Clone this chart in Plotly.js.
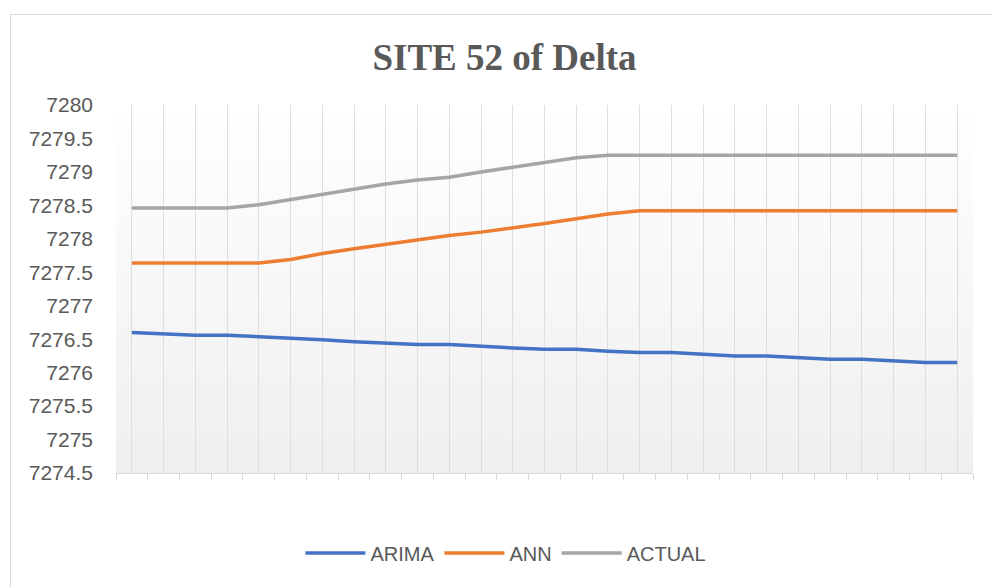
<!DOCTYPE html>
<html>
<head>
<meta charset="utf-8">
<script src="https://cdn.plot.ly/plotly-3.0.1.min.js"></script>
<style>
  html, body { margin: 0; padding: 0; background: #ffffff; overflow: hidden; }
  #frame { position: absolute; left: 10px; top: 14px; width: 1000px; height: 620px;
           border-left: 1px solid #d9d9d9; border-top: 1px solid #d9d9d9; }
  #chart { position: absolute; left: 0; top: 0; width: 992px; height: 587px; }
</style>
</head>
<body>
<div id="frame"></div>
<div id="chart"></div>
<script>
const periods = [1, 2, 3, 4, 5, 6, 7, 8, 9, 10, 11, 12, 13, 14, 15, 16, 17, 18, 19, 20, 21, 22, 23, 24, 25, 26, 27];

const arima = [7276.60, 7276.58, 7276.56, 7276.56, 7276.54, 7276.51, 7276.49, 7276.46, 7276.44,
               7276.42, 7276.42, 7276.39, 7276.37, 7276.35, 7276.35, 7276.32, 7276.30, 7276.30,
               7276.27, 7276.25, 7276.25, 7276.22, 7276.20, 7276.20, 7276.18, 7276.15, 7276.15];

const ann = [7277.64, 7277.64, 7277.64, 7277.64, 7277.64, 7277.69, 7277.78, 7277.85, 7277.92,
             7277.99, 7278.05, 7278.10, 7278.16, 7278.23, 7278.30, 7278.37, 7278.42, 7278.42,
             7278.42, 7278.42, 7278.42, 7278.42, 7278.42, 7278.42, 7278.42, 7278.42, 7278.42];

const actual = [7278.46, 7278.46, 7278.46, 7278.46, 7278.51, 7278.59, 7278.67, 7278.74, 7278.82,
                7278.88, 7278.92, 7279.00, 7279.07, 7279.15, 7279.21, 7279.25, 7279.25, 7279.25,
                7279.25, 7279.25, 7279.25, 7279.25, 7279.25, 7279.25, 7279.25, 7279.25, 7279.25];

const seriesNames = ['ARIMA', 'ANN', 'ACTUAL'];
const seriesColors = ['#4472C4', '#ED7D31', '#A5A5A5'];
const chartTitle = 'SITE 52 of Delta';

const seriesData = [arima, ann, actual];
const traces = seriesData.map((ys, i) => ({
  type: 'scatter',
  mode: 'lines',
  x: periods,
  y: ys,
  name: seriesNames[i],
  line: { color: seriesColors[i], width: 3.5 },
  hoverinfo: 'skip'
}));

const boundaries = periods.map(p => p - 0.5).concat([periods[periods.length - 1] + 0.5]);

const gradSvg = '<svg xmlns="http://www.w3.org/2000/svg" width="10" height="100" preserveAspectRatio="none">' +
  '<defs><linearGradient id="g" x1="0" y1="0" x2="0" y2="1">' +
  '<stop offset="0" stop-color="#ffffff"/><stop offset="1" stop-color="#efefef"/></linearGradient></defs>' +
  '<rect width="10" height="100" fill="url(#g)"/></svg>';

const layout = {
  width: 992,
  height: 587,
  margin: { l: 116, r: 19, t: 105, b: 114 },
  paper_bgcolor: 'rgba(0,0,0,0)',
  plot_bgcolor: 'rgba(0,0,0,0)',
  title: {
    text: chartTitle,
    font: { family: 'Liberation Serif, Times New Roman, serif', size: 37, color: '#595959', weight: 'bold' },
    xref: 'container', yref: 'container',
    x: 0.5086, y: 1 - 57 / 587, xanchor: 'center', yanchor: 'middle'
  },
  images: [{
    source: 'data:image/svg+xml;charset=utf-8,' + encodeURIComponent(gradSvg),
    xref: 'paper', yref: 'paper', x: 0, y: 1, sizex: 1, sizey: 1,
    sizing: 'stretch', xanchor: 'left', yanchor: 'top', layer: 'below'
  }],
  xaxis: {
    range: [0.5, 27.5],
    tickmode: 'array',
    tickvals: periods,
    showticklabels: false,
    ticks: '',
    showgrid: true,
    gridcolor: '#dedede',
    gridwidth: 1,
    zeroline: false,
    showline: true,
    linecolor: '#d9d9d9',
    linewidth: 1,
    minor: {
      tickmode: 'array',
      tickvals: boundaries,
      ticks: 'outside',
      ticklen: 6,
      tickwidth: 1,
      tickcolor: '#d9d9d9',
      showgrid: false
    },
    fixedrange: true
  },
  yaxis: {
    range: [7274.5, 7280],
    tickmode: 'linear',
    tick0: 7274.5,
    dtick: 0.5,
    tickformat: '.1~f',
    showgrid: false,
    zeroline: false,
    showline: false,
    ticks: '',
    ticklabelstandoff: 22,
    tickfont: { family: 'Liberation Sans, Arial, sans-serif', size: 21, color: '#595959' },
    fixedrange: true
  },
  showlegend: true,
  legend: {
    orientation: 'h',
    xref: 'container', yref: 'container',
    x: 0.5100, y: 1 - 553 / 587,
    xanchor: 'center', yanchor: 'middle',
    font: { family: 'Liberation Sans, Arial, sans-serif', size: 20, color: '#595959' },
    itemwidth: 60,
    tracegroupgap: 0,
    bgcolor: 'rgba(0,0,0,0)'
  },
  hovermode: false
};

Plotly.newPlot('chart', traces, layout, { staticPlot: true, displayModeBar: false });
</script>
</body>
</html>
